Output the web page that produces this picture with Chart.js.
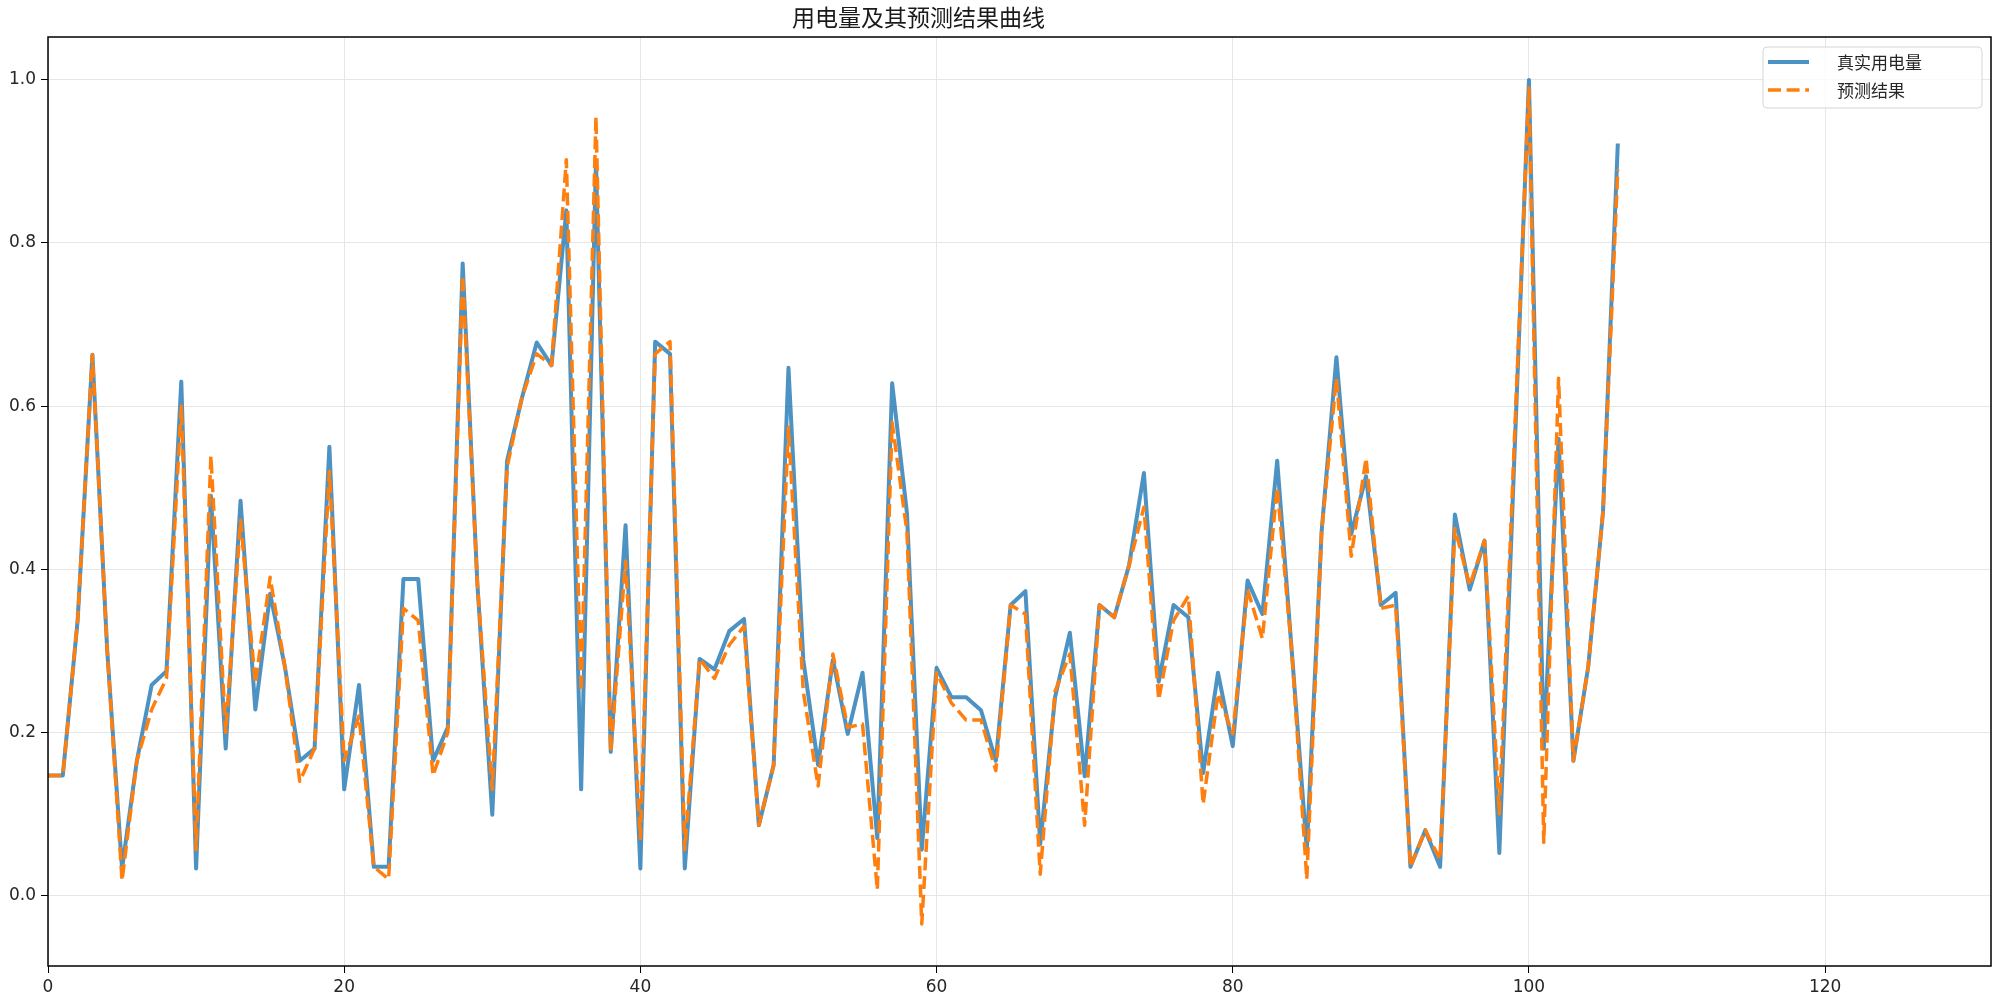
<!DOCTYPE html>
<html>
<head>
<meta charset="utf-8">
<title>用电量及其预测结果曲线</title>
<script src="https://cdn.jsdelivr.net/npm/chart.js@4/dist/chart.umd.min.js"></script>
<style>
    html, body { margin: 0; padding: 0; background: #fff; }
    #wrap { width: 2000px; height: 1003px; position: relative; }
</style>
</head>
<body>
<div id="wrap"><canvas id="powerChart"></canvas></div>
<script>
/* ================= DATA ================= */
const TITLE = '用电量及其预测结果曲线';
const SERIES_NAMES = ['真实用电量', '预测结果'];

const REAL_VALUES = [
    0.147, 0.147, 0.337, 0.663, 0.300, 0.033, 0.165, 0.258, 0.275, 0.630,
    0.033, 0.490, 0.180, 0.484, 0.228, 0.370, 0.280, 0.165, 0.180, 0.550,
    0.130, 0.258, 0.035, 0.035, 0.388, 0.388, 0.165, 0.206, 0.775, 0.380,
    0.099, 0.533, 0.610, 0.678, 0.650, 0.840, 0.130, 0.900, 0.176, 0.454,
    0.033, 0.679, 0.664, 0.033, 0.290, 0.277, 0.324, 0.339, 0.086, 0.160,
    0.647, 0.289, 0.160, 0.289, 0.198, 0.273, 0.070, 0.628, 0.469, 0.056,
    0.279, 0.243, 0.243, 0.227, 0.165, 0.356, 0.373, 0.063, 0.243, 0.322,
    0.146, 0.356, 0.341, 0.405, 0.518, 0.262, 0.356, 0.341, 0.150, 0.273,
    0.183, 0.386, 0.345, 0.533, 0.296, 0.056, 0.446, 0.660, 0.443, 0.514,
    0.356, 0.371, 0.035, 0.080, 0.035, 0.467, 0.375, 0.435, 0.052, 0.530,
    1.000, 0.180, 0.560, 0.165, 0.280, 0.470, 0.922
];

const PRED_VALUES = [
    0.147, 0.147, 0.337, 0.663, 0.300, 0.018, 0.165, 0.228, 0.266, 0.600,
    0.056, 0.539, 0.200, 0.460, 0.260, 0.390, 0.280, 0.140, 0.180, 0.520,
    0.165, 0.220, 0.035, 0.020, 0.352, 0.337, 0.147, 0.200, 0.760, 0.380,
    0.130, 0.525, 0.610, 0.664, 0.650, 0.902, 0.250, 0.955, 0.176, 0.410,
    0.070, 0.664, 0.679, 0.056, 0.290, 0.266, 0.307, 0.330, 0.086, 0.160,
    0.574, 0.250, 0.134, 0.296, 0.206, 0.210, 0.007, 0.580, 0.446, -0.035,
    0.273, 0.236, 0.215, 0.215, 0.153, 0.356, 0.345, 0.026, 0.250, 0.296,
    0.086, 0.356, 0.341, 0.405, 0.476, 0.240, 0.337, 0.367, 0.112, 0.247,
    0.198, 0.375, 0.315, 0.500, 0.296, 0.020, 0.446, 0.634, 0.416, 0.536,
    0.352, 0.356, 0.035, 0.080, 0.044, 0.450, 0.380, 0.435, 0.100, 0.550,
    0.990, 0.065, 0.634, 0.165, 0.280, 0.470, 0.890
];

const X_TICKS = [0, 20, 40, 60, 80, 100, 120];
const Y_TICKS = [0.0, 0.2, 0.4, 0.6, 0.8, 1.0];
const X_RANGE = [0, 131.2];
const Y_RANGE = [-0.0866, 1.0526];

/* ================= STYLE ================= */
const BLUE = 'rgba(31, 119, 180, 0.8)';
const ORANGE = '#ff7f0e';
const ORANGE_DASH = [13, 5.6];
const TICK_FONT = { family: 'DejaVu Sans', size: 17 };
const CJK_FONT = '"Noto Sans CJK SC", "Noto Sans", sans-serif';

function toPoints(values) {
    return values.map((v, i) => ({ x: i, y: v }));
}

// frame, title and legend drawn like matplotlib
const framePlugin = {
    id: 'frame',
    afterDraw(chart) {
        const { ctx, chartArea: a } = chart;
        ctx.save();

        // axes box
        ctx.strokeStyle = '#000';
        ctx.lineWidth = 1.5;
        ctx.strokeRect(a.left, a.top, a.right - a.left, a.bottom - a.top);

        // title (sits a little left of centre in the original)
        ctx.fillStyle = '#1a1a1a';
        ctx.font = '23px ' + CJK_FONT;
        ctx.textAlign = 'center';
        ctx.textBaseline = 'middle';
        ctx.fillText(TITLE, a.left + (a.right - a.left) * 0.448, 17);

        // legend box
        const bx = a.right - 228, by = a.top + 10, bw = 219, bh = 61;
        ctx.fillStyle = 'rgba(255,255,255,0.8)';
        ctx.strokeStyle = '#d6d6d6';
        ctx.lineWidth = 1;
        ctx.beginPath();
        ctx.roundRect(bx, by, bw, bh, 4);
        ctx.fill();
        ctx.stroke();

        const rows = [
            { label: SERIES_NAMES[0], color: BLUE, width: 4, dash: [] },
            { label: SERIES_NAMES[1], color: ORANGE, width: 3.5, dash: ORANGE_DASH }
        ];
        rows.forEach((row, k) => {
            const y = by + 15 + k * 28;
            ctx.strokeStyle = row.color;
            ctx.lineWidth = row.width;
            ctx.setLineDash(row.dash);
            ctx.beginPath();
            ctx.moveTo(bx + 5, y);
            ctx.lineTo(bx + 46, y);
            ctx.stroke();
            ctx.setLineDash([]);

            ctx.fillStyle = '#262626';
            ctx.font = '17px ' + CJK_FONT;
            ctx.textAlign = 'left';
            ctx.textBaseline = 'middle';
            ctx.fillText(row.label, bx + 74, y + 1);
        });

        ctx.restore();
    }
};

/* ================= CHART ================= */
function initChart() {
    const ctx = document.getElementById('powerChart').getContext('2d');
    return new Chart(ctx, {
        type: 'line',
        data: {
            datasets: [
                {
                    label: SERIES_NAMES[0],
                    data: toPoints(REAL_VALUES),
                    borderColor: BLUE,
                    borderWidth: 4,
                    borderJoinStyle: 'round',
                    pointRadius: 0,
                    tension: 0,
                    order: 1
                },
                {
                    label: SERIES_NAMES[1],
                    data: toPoints(PRED_VALUES),
                    borderColor: ORANGE,
                    borderWidth: 3.5,
                    borderDash: ORANGE_DASH,
                    borderJoinStyle: 'round',
                    pointRadius: 0,
                    tension: 0,
                    order: 0
                }
            ]
        },
        options: {
            responsive: true,
            maintainAspectRatio: false,
            animation: false,
            layout: { padding: { top: 37, right: 9, left: 0, bottom: 0 } },
            plugins: {
                legend: { display: false },
                title: { display: false },
                tooltip: { enabled: false }
            },
            scales: {
                x: {
                    type: 'linear',
                    min: X_RANGE[0],
                    max: X_RANGE[1],
                    afterBuildTicks: s => { s.ticks = X_TICKS.map(v => ({ value: v })); },
                    afterFit: s => { s.height = 37; },
                    border: { display: false },
                    grid: { color: '#e6e6e6', lineWidth: 1, tickColor: '#000', tickLength: 7 },
                    ticks: { color: '#262626', font: TICK_FONT, padding: 4, maxRotation: 0 }
                },
                y: {
                    type: 'linear',
                    min: Y_RANGE[0],
                    max: Y_RANGE[1],
                    afterBuildTicks: s => { s.ticks = Y_TICKS.map(v => ({ value: v })); },
                    afterFit: s => { s.width = 48; },
                    border: { display: false },
                    grid: { color: '#e6e6e6', lineWidth: 1, tickColor: '#000', tickLength: 7 },
                    ticks: {
                        color: '#262626',
                        font: TICK_FONT,
                        padding: 5,
                        callback: v => Number(v).toFixed(1)
                    }
                }
            }
        },
        plugins: [framePlugin]
    });
}

document.addEventListener('DOMContentLoaded', () => {
    initChart();
});
</script>
</body>
</html>
